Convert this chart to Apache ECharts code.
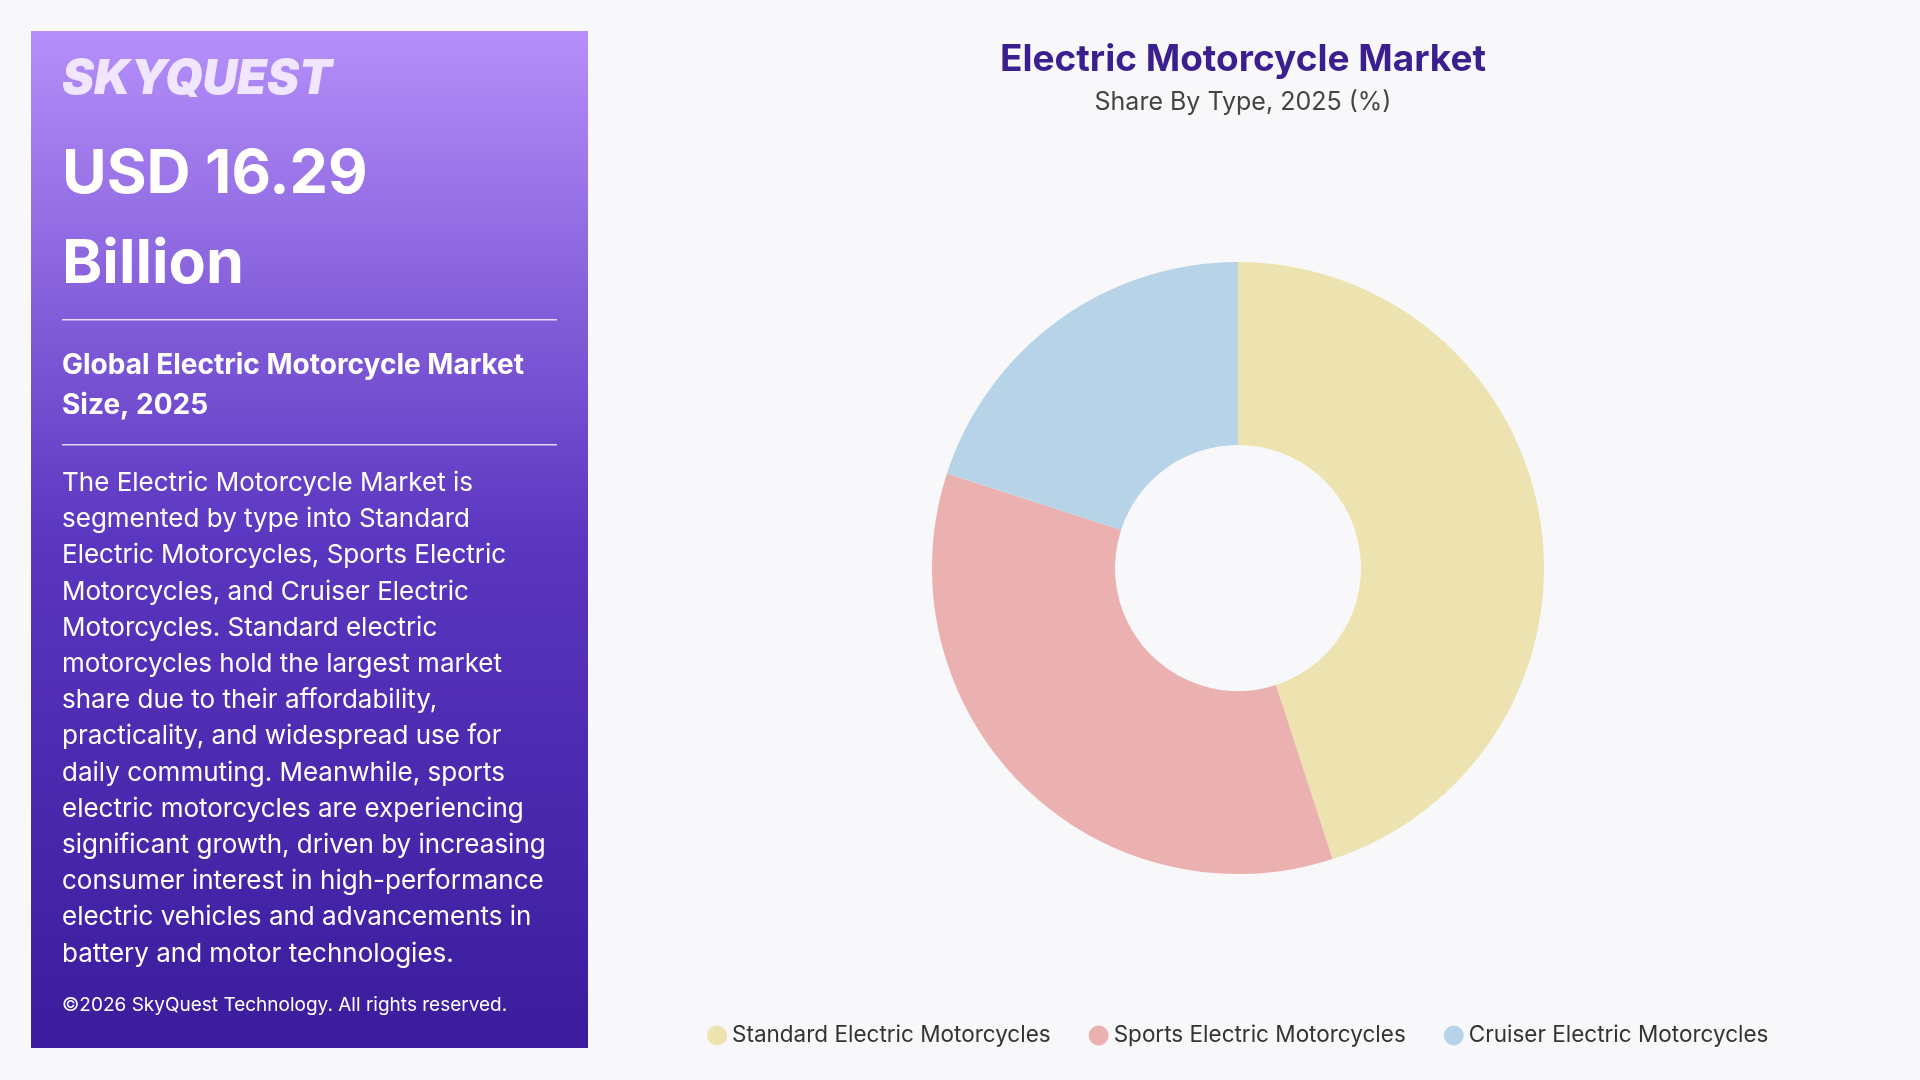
<!DOCTYPE html>
<html><head><meta charset="utf-8">
<script src="https://cdn.jsdelivr.net/npm/echarts@6/dist/echarts.min.js"></script>
<style>html,body{margin:0;padding:0;background:#f8f8fa}#c{width:1920px;height:1080px}</style>
</head><body><div id="c"></div>
<script>
const categories=['Standard Electric Motorcycles','Sports Electric Motorcycles','Cruiser Electric Motorcycles'];
const values=[45,35,20];
const colors=['#ece3b0','#ebb0b0','#b7d3e8'];
const bodyLines=['The Electric Motorcycle Market is','segmented by type into Standard','Electric Motorcycles, Sports Electric','Motorcycles, and Cruiser Electric','Motorcycles. Standard electric','motorcycles hold the largest market','share due to their affordability,','practicality, and widespread use for','daily commuting. Meanwhile, sports','electric motorcycles are experiencing','significant growth, driven by increasing','consumer interest in high-performance','electric vehicles and advancements in','battery and motor technologies.'];
const F='Inter, "Open Sans", sans-serif';
const chart=echarts.init(document.getElementById('c'));
chart.setOption({
backgroundColor:'#f8f8fa',
title:{text:'Electric Motorcycle Market',subtext:'Share By Type, 2025 (%)',left:1238,top:36,textAlign:'center',
 textStyle:{fontFamily:F,fontSize:37,fontWeight:'bold',color:'#3b1f8f'},
 subtextStyle:{fontFamily:F,fontSize:25,color:'#444'},itemGap:12},
legend:{bottom:28,left:702,orient:'horizontal',icon:'circle',itemWidth:20,itemHeight:20,itemGap:38,
 textStyle:{fontFamily:F,fontSize:22.5,color:'#333'},data:categories},
series:[{type:'pie',center:[1238,568],radius:[123,306],startAngle:90,clockwise:true,
 label:{show:false},labelLine:{show:false},silent:true,
 data:categories.map((n,i)=>({name:n,value:values[i],itemStyle:{color:colors[i]}}))}],
graphic:[
 {type:'rect',shape:{x:31,y:31,width:557,height:1017},style:{fill:new echarts.graphic.LinearGradient(0,0,0,1,[{offset:0,color:'#b58ff9'},{offset:0.5,color:'#5b36c0'},{offset:1,color:'#3a1c9c'}])}},
 {type:'text',x:62,y:56,style:{text:'SKYQUEST',fontFamily:F,fontSize:48,fontWeight:900,fontStyle:'italic',fill:'#f1e6ff'}},
 {type:'text',x:62,y:130,style:{text:'USD 16.29\nBillion',fontFamily:F,fontSize:61,fontWeight:'bold',fill:'#fff',lineHeight:90}},
 {type:'rect',shape:{x:62,y:319,width:495,height:1.5},style:{fill:'rgba(255,255,255,0.8)'}},
 {type:'text',x:62,y:346,style:{text:'Global Electric Motorcycle Market\nSize, 2025',fontFamily:F,fontSize:28,fontWeight:'bold',fill:'#fff',lineHeight:40}},
 {type:'rect',shape:{x:62,y:444,width:495,height:1.5},style:{fill:'rgba(255,255,255,0.8)'}},
 {type:'text',x:62,y:465,style:{text:bodyLines.join('\n'),fontFamily:F,fontSize:26,fill:'#fff',lineHeight:36.2}},
 {type:'text',x:62,y:996,style:{text:'©2026 SkyQuest Technology. All rights reserved.',fontFamily:F,fontSize:19,fill:'#fff'}}
]});
</script></body></html>
